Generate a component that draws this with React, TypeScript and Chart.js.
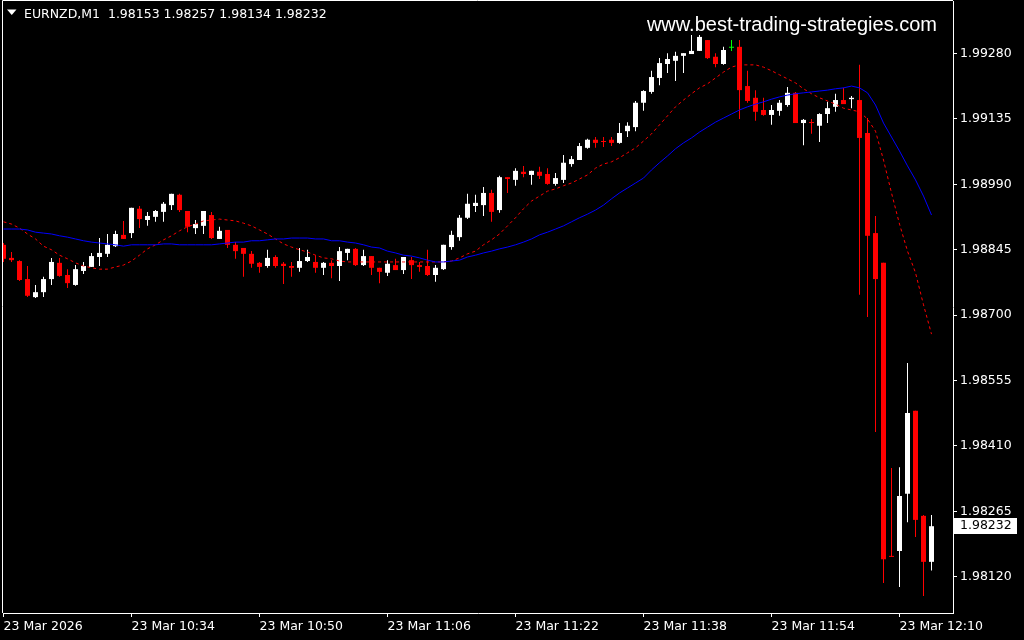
import { useEffect, useRef } from "react";
import { Chart, registerables } from "chart.js";

Chart.register(...registerables);

const symbolLabel = "EURNZD,M1";
const watermarkText = "www.best-trading-strategies.com";

const timeLabels = [
  "23 Mar 2026", "23 Mar 10:34", "23 Mar 10:50", "23 Mar 11:06",
  "23 Mar 11:22", "23 Mar 11:38", "23 Mar 11:54", "23 Mar 12:10",
];
const timeLabelBars = [0, 16, 32, 48, 64, 80, 96, 112];

const priceTicks = [
  1.9812, 1.98265, 1.9841, 1.98555, 1.987, 1.98845, 1.9899, 1.99135, 1.9928,
];

const opens = [
  1.98856, 1.98827, 1.98820, 1.98780, 1.98740, 1.98751, 1.98780, 1.98816, 1.98789, 1.98767,
  1.98798, 1.98807, 1.98829, 1.98836, 1.98853, 1.98878, 1.98882, 1.98936, 1.98911, 1.98918,
  1.98929, 1.98944, 1.98967, 1.98931, 1.98893, 1.98898, 1.98922, 1.98869, 1.98889, 1.98856,
  1.98849, 1.98836, 1.98816, 1.98809, 1.98829, 1.98814, 1.98809, 1.98805, 1.98820, 1.98818,
  1.98805, 1.98816, 1.98809, 1.98838, 1.98847, 1.98811, 1.98831, 1.98805, 1.98794, 1.98811,
  1.98800, 1.98822, 1.98811, 1.98809, 1.98789, 1.98802, 1.98851, 1.98873, 1.98916, 1.98942,
  1.98944, 1.98971, 1.98933, 1.99006, 1.99000, 1.99018, 1.99011, 1.99018, 1.99013, 1.98991,
  1.99000, 1.99035, 1.99044, 1.99071, 1.99089, 1.99086, 1.99089, 1.99082, 1.99108, 1.99117,
  1.99171, 1.99195, 1.99226, 1.99257, 1.99264, 1.99275, 1.99279, 1.99286, 1.99310, 1.99273,
  1.99257, 1.99293, 1.99295, 1.99208, 1.99182, 1.99155, 1.99144, 1.99153, 1.99166, 1.99193,
  1.99126, 1.99128, 1.99120, 1.99146, 1.99162, 1.99177, 1.99179, 1.99177, 1.99104, 1.98882,
  1.98816, 1.98166, 1.98177, 1.98304, 1.98488, 1.98255, 1.98153,
];

const highs = [
  1.98860, 1.98840, 1.98822, 1.98809, 1.98767, 1.98785, 1.98827, 1.98827, 1.98802, 1.98811,
  1.98818, 1.98838, 1.98871, 1.98880, 1.98887, 1.98909, 1.98938, 1.98942, 1.98929, 1.98933,
  1.98951, 1.98969, 1.98969, 1.98931, 1.98911, 1.98931, 1.98929, 1.98896, 1.98889, 1.98862,
  1.98849, 1.98842, 1.98818, 1.98845, 1.98833, 1.98818, 1.98818, 1.98849, 1.98845, 1.98833,
  1.98818, 1.98822, 1.98851, 1.98847, 1.98849, 1.98845, 1.98831, 1.98805, 1.98822, 1.98825,
  1.98829, 1.98829, 1.98818, 1.98845, 1.98811, 1.98856, 1.98887, 1.98922, 1.98969, 1.98967,
  1.98984, 1.98978, 1.99009, 1.99006, 1.99026, 1.99031, 1.99020, 1.99029, 1.99026, 1.99015,
  1.99055, 1.99053, 1.99082, 1.99091, 1.99095, 1.99095, 1.99095, 1.99126, 1.99128, 1.99175,
  1.99199, 1.99242, 1.99270, 1.99281, 1.99284, 1.99281, 1.99321, 1.99321, 1.99310, 1.99281,
  1.99295, 1.99310, 1.99310, 1.99242, 1.99199, 1.99182, 1.99166, 1.99177, 1.99206, 1.99195,
  1.99135, 1.99135, 1.99148, 1.99173, 1.99191, 1.99204, 1.99186, 1.99255, 1.99137, 1.98920,
  1.98816, 1.98361, 1.98363, 1.98594, 1.98488, 1.98257, 1.98257,
];

const lows = [
  1.98818, 1.98818, 1.98776, 1.98740, 1.98738, 1.98740, 1.98767, 1.98785, 1.98760, 1.98765,
  1.98791, 1.98807, 1.98809, 1.98829, 1.98851, 1.98869, 1.98871, 1.98893, 1.98898, 1.98907,
  1.98907, 1.98933, 1.98929, 1.98884, 1.98880, 1.98880, 1.98869, 1.98869, 1.98849, 1.98825,
  1.98785, 1.98805, 1.98794, 1.98805, 1.98805, 1.98769, 1.98785, 1.98796, 1.98818, 1.98794,
  1.98789, 1.98782, 1.98776, 1.98822, 1.98809, 1.98809, 1.98789, 1.98771, 1.98787, 1.98800,
  1.98791, 1.98780, 1.98796, 1.98787, 1.98774, 1.98800, 1.98845, 1.98865, 1.98913, 1.98929,
  1.98920, 1.98907, 1.98927, 1.98971, 1.98987, 1.99006, 1.98989, 1.99002, 1.98989, 1.98987,
  1.98993, 1.99029, 1.99044, 1.99069, 1.99071, 1.99073, 1.99075, 1.99080, 1.99095, 1.99108,
  1.99153, 1.99191, 1.99210, 1.99237, 1.99219, 1.99237, 1.99279, 1.99286, 1.99268, 1.99250,
  1.99255, 1.99286, 1.99135, 1.99171, 1.99131, 1.99142, 1.99122, 1.99142, 1.99162, 1.99126,
  1.99077, 1.99102, 1.99084, 1.99126, 1.99151, 1.99168, 1.99159, 1.98745, 1.98696, 1.98441,
  1.98106, 1.98164, 1.98097, 1.98241, 1.98208, 1.98077, 1.98134,
];

const closes = [
  1.98825, 1.98822, 1.98778, 1.98743, 1.98751, 1.98780, 1.98818, 1.98787, 1.98771, 1.98802,
  1.98809, 1.98831, 1.98838, 1.98856, 1.98880, 1.98869, 1.98938, 1.98913, 1.98920, 1.98931,
  1.98947, 1.98969, 1.98933, 1.98896, 1.98902, 1.98931, 1.98871, 1.98887, 1.98856, 1.98842,
  1.98836, 1.98814, 1.98807, 1.98827, 1.98809, 1.98809, 1.98805, 1.98820, 1.98829, 1.98805,
  1.98816, 1.98809, 1.98842, 1.98847, 1.98811, 1.98831, 1.98805, 1.98796, 1.98814, 1.98800,
  1.98829, 1.98811, 1.98807, 1.98789, 1.98805, 1.98856, 1.98878, 1.98916, 1.98947, 1.98949,
  1.98971, 1.98929, 1.99006, 1.99002, 1.99020, 1.99013, 1.99020, 1.99009, 1.98991, 1.99004,
  1.99038, 1.99046, 1.99075, 1.99089, 1.99082, 1.99084, 1.99082, 1.99104, 1.99120, 1.99171,
  1.99197, 1.99228, 1.99259, 1.99268, 1.99275, 1.99281, 1.99286, 1.99317, 1.99270, 1.99257,
  1.99288, 1.99293, 1.99199, 1.99175, 1.99151, 1.99144, 1.99155, 1.99171, 1.99193, 1.99126,
  1.99133, 1.99126, 1.99146, 1.99159, 1.99177, 1.99168, 1.99182, 1.99093, 1.98876, 1.98780,
  1.98159, 1.98164, 1.98299, 1.98483, 1.98246, 1.98153, 1.98232,
];

const maSlow = [
  1.98891, 1.98891, 1.98891, 1.98889, 1.98884, 1.98882, 1.98880, 1.98876, 1.98873, 1.98869,
  1.98865, 1.98862, 1.98860, 1.98858, 1.98856, 1.98853, 1.98856, 1.98856, 1.98856, 1.98856,
  1.98858, 1.98858, 1.98856, 1.98856, 1.98856, 1.98856, 1.98856, 1.98858, 1.98860, 1.98862,
  1.98862, 1.98865, 1.98865, 1.98867, 1.98869, 1.98869, 1.98871, 1.98871, 1.98871, 1.98869,
  1.98869, 1.98865, 1.98865, 1.98862, 1.98860, 1.98856, 1.98851, 1.98849, 1.98842, 1.98838,
  1.98833, 1.98831, 1.98827, 1.98822, 1.98818, 1.98818, 1.98820, 1.98822, 1.98829, 1.98833,
  1.98838, 1.98842, 1.98847, 1.98851, 1.98856, 1.98862, 1.98869, 1.98878, 1.98884, 1.98891,
  1.98898, 1.98907, 1.98916, 1.98924, 1.98933, 1.98944, 1.98958, 1.98971, 1.98982, 1.98993,
  1.99004, 1.99022, 1.99038, 1.99053, 1.99069, 1.99082, 1.99093, 1.99106, 1.99117, 1.99128,
  1.99137, 1.99146, 1.99155, 1.99162, 1.99168, 1.99173, 1.99179, 1.99184, 1.99188, 1.99191,
  1.99193, 1.99195, 1.99197, 1.99199, 1.99202, 1.99204, 1.99208, 1.99204, 1.99193, 1.99166,
  1.99126, 1.99095, 1.99064, 1.99031, 1.99000, 1.98964, 1.98922,
];

const maFast = [
  1.98907, 1.98902, 1.98893, 1.98880, 1.98869, 1.98853, 1.98845, 1.98833, 1.98825, 1.98816,
  1.98809, 1.98805, 1.98802, 1.98802, 1.98807, 1.98811, 1.98820, 1.98833, 1.98847, 1.98856,
  1.98867, 1.98876, 1.98887, 1.98896, 1.98902, 1.98909, 1.98911, 1.98913, 1.98911, 1.98909,
  1.98904, 1.98898, 1.98889, 1.98880, 1.98869, 1.98858, 1.98851, 1.98845, 1.98840, 1.98833,
  1.98827, 1.98825, 1.98820, 1.98818, 1.98818, 1.98818, 1.98818, 1.98818, 1.98818, 1.98818,
  1.98818, 1.98818, 1.98818, 1.98818, 1.98818, 1.98818, 1.98820, 1.98827, 1.98836, 1.98842,
  1.98856, 1.98867, 1.98880, 1.98898, 1.98916, 1.98936, 1.98953, 1.98964, 1.98975, 1.98980,
  1.98987, 1.98993, 1.99002, 1.99011, 1.99026, 1.99035, 1.99040, 1.99049, 1.99060, 1.99071,
  1.99086, 1.99102, 1.99122, 1.99142, 1.99162, 1.99177, 1.99191, 1.99204, 1.99213, 1.99226,
  1.99239, 1.99250, 1.99255, 1.99255, 1.99255, 1.99250, 1.99242, 1.99233, 1.99224, 1.99215,
  1.99202, 1.99191, 1.99182, 1.99175, 1.99168, 1.99159, 1.99155, 1.99151, 1.99135, 1.99108,
  1.99044, 1.98971, 1.98902, 1.98842, 1.98794, 1.98723, 1.98658,
];

const FONT = '"DejaVu Sans", sans-serif';
const FONT_SIZE = 12.5;

function candleColor(i: number): string {
  if (closes[i] > opens[i]) return "#ffffff";
  if (closes[i] < opens[i]) return "#ff0000";
  return "#00ff00";
}

const chromePlugin = {
  id: "mt4chrome",
  beforeDraw(chart: any) {
    const { ctx, width, height } = chart;
    ctx.save();
    ctx.fillStyle = "#000000";
    ctx.fillRect(0, 0, width, height);
    ctx.restore();
  },
  afterDraw(chart: any) {
    const { ctx, chartArea, scales } = chart;
    const last = closes.length - 1;
    ctx.save();
    // frame (left + top)
    ctx.strokeStyle = "#ffffff";
    ctx.lineWidth = 1;
    ctx.beginPath();
    ctx.moveTo(2.5, chartArea.bottom);
    ctx.lineTo(2.5, 0.5);
    ctx.lineTo(chartArea.right, 0.5);
    ctx.stroke();

    // header triangle and OHLC
    ctx.fillStyle = "#ffffff";
    ctx.beginPath();
    ctx.moveTo(7, 9.5);
    ctx.lineTo(16.5, 9.5);
    ctx.lineTo(11.75, 15);
    ctx.closePath();
    ctx.fill();
    ctx.font = `${FONT_SIZE}px ${FONT}`;
    ctx.textBaseline = "alphabetic";
    ctx.textAlign = "left";
    const hdr = `${symbolLabel}  ${opens[last].toFixed(5)} ${highs[last].toFixed(5)} ${lows[last].toFixed(5)} ${closes[last].toFixed(5)}`;
    ctx.fillText(hdr, 24, 18);

    // watermark
    ctx.font = '20px "Liberation Sans", Arial, sans-serif';
    ctx.textAlign = "right";
    ctx.fillText(watermarkText, 937, 31);

    // current price label
    const y = scales.y.getPixelForValue(closes[last]);
    const top = Math.round(y) - 8;
    ctx.fillStyle = "#ffffff";
    ctx.fillRect(chartArea.right + 1, top, 63, 16);
    ctx.fillStyle = "#000000";
    ctx.font = `${FONT_SIZE}px ${FONT}`;
    ctx.textAlign = "left";
    ctx.textBaseline = "middle";
    ctx.fillText(closes[last].toFixed(5), 960, y);
    ctx.restore();
  },
};

export default function App() {
  const canvasRef = useRef<HTMLCanvasElement | null>(null);

  useEffect(() => {
    document.body.style.margin = "0";
    document.body.style.background = "#000";
    const canvas = canvasRef.current;
    if (!canvas) return;

    const idx = opens.map((_, i) => i);
    const colors = idx.map(candleColor);

    const chart = new Chart(canvas, {
      type: "bar",
      data: {
        datasets: [
          {
            type: "line",
            label: "MA slow",
            data: maSlow.map((v, i) => ({ x: i, y: v })),
            borderColor: "#0000ff",
            borderWidth: 1,
            pointRadius: 0,
            tension: 0,
            fill: false,
            order: 0,
          } as any,
          {
            type: "line",
            label: "MA fast",
            data: maFast.map((v, i) => ({ x: i, y: v })),
            borderColor: "#ff0000",
            borderWidth: 1,
            borderDash: [3, 3],
            pointRadius: 0,
            tension: 0,
            fill: false,
            order: 0,
          } as any,
          {
            type: "bar",
            label: "wicks",
            data: idx.map((i) => ({ x: i, y: [lows[i], highs[i]] })),
            backgroundColor: colors,
            borderWidth: 0,
            grouped: false,
            maxBarThickness: 1,
            inflateAmount: 0,
            order: 2,
          } as any,
          {
            type: "bar",
            label: "bodies",
            data: idx.map((i) => ({ x: i, y: [opens[i], closes[i]] })),
            backgroundColor: colors,
            borderWidth: 0,
            grouped: false,
            maxBarThickness: 5,
            minBarLength: 1,
            inflateAmount: 0,
            order: 1,
          } as any,
        ],
      },
      options: {
        animation: false,
        responsive: false,
        events: [],
        layout: { padding: { left: 3, top: 1, right: 0, bottom: 0 } },
        plugins: {
          legend: { display: false },
          tooltip: { enabled: false },
        },
        scales: {
          x: {
            type: "linear",
            min: -0.0625,
            max: 118.6875,
            offset: false,
            grid: {
              display: true,
              drawOnChartArea: false,
              drawTicks: true,
              tickLength: 4,
              color: "#ffffff",
              offset: false,
            },
            border: { display: true, color: "#ffffff", width: 1 },
            ticks: {
              color: "#ffffff",
              font: { family: FONT, size: FONT_SIZE },
              autoSkip: false,
              maxRotation: 0,
              minRotation: 0,
              align: "start",
              padding: 2,
              callback: (v: any) => {
                const k = timeLabelBars.indexOf(Number(v));
                return k >= 0 ? timeLabels[k] : "";
              },
            },
            afterBuildTicks: (scale: any) => {
              scale.ticks = timeLabelBars.map((v) => ({ value: v }));
            },
            afterFit: (scale: any) => {
              scale.height = 27;
              scale.paddingLeft = 0;
              scale.paddingRight = 0;
            },
          },
          y: {
            type: "linear",
            position: "right",
            min: 1.9803955,
            max: 1.9939664,
            grid: {
              display: true,
              drawOnChartArea: false,
              drawTicks: true,
              tickLength: 4,
              color: "#ffffff",
            },
            border: { display: true, color: "#ffffff", width: 1 },
            ticks: {
              color: "#ffffff",
              font: { family: FONT, size: FONT_SIZE },
              padding: 3,
              callback: (v: any) => Number(v).toFixed(5),
            },
            afterBuildTicks: (scale: any) => {
              scale.ticks = priceTicks.map((v) => ({ value: v }));
            },
            afterFit: (scale: any) => {
              scale.width = 71;
              scale.paddingTop = 0;
              scale.paddingBottom = 0;
            },
          },
        },
      } as any,
      plugins: [chromePlugin],
    });

    return () => chart.destroy();
  }, []);

  return (
    <div style={{ position: "fixed", left: 0, top: 0, width: 1024, height: 640, background: "#000" }}>
      <canvas ref={canvasRef} width={1024} height={640} style={{ display: "block" }} />
    </div>
  );
}
